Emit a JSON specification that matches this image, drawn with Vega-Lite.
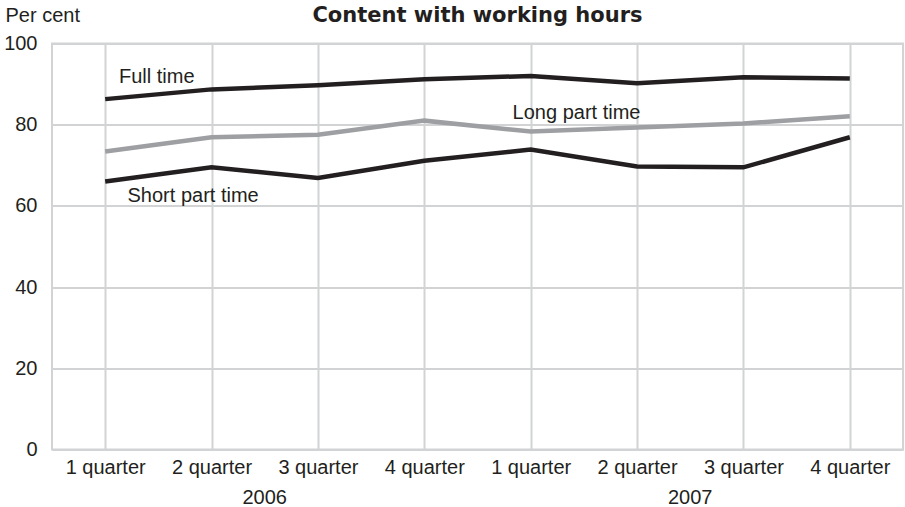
{
  "$schema": "https://vega.github.io/schema/vega-lite/v6.json",
  "width": 851,
  "height": 406,
  "autosize": "none",
  "padding": {"left": 52, "top": 43.5, "right": 2, "bottom": 57.5},
  "background": "white",
  "config": {
    "view": {"stroke": "#d1d3d4", "strokeWidth": 2},
    "font": "Liberation Sans"
  },
  "title": {
    "text": "Content with working hours",
    "font": "DejaVu Sans",
    "fontSize": 21,
    "fontWeight": "bold",
    "color": "#231f20",
    "anchor": "middle",
    "frame": "group",
    "baseline": "alphabetic",
    "offset": 0,
    "dy": 37
  },
  "layer": [
    {
      "data": {
        "values": [
          {"period": 1, "series": "Full time", "value": 86.3},
          {"period": 2, "series": "Full time", "value": 88.7},
          {"period": 3, "series": "Full time", "value": 89.7},
          {"period": 4, "series": "Full time", "value": 91.2},
          {"period": 5, "series": "Full time", "value": 92.0},
          {"period": 6, "series": "Full time", "value": 90.2},
          {"period": 7, "series": "Full time", "value": 91.7},
          {"period": 8, "series": "Full time", "value": 91.4},
          {"period": 1, "series": "Long part time", "value": 73.4},
          {"period": 2, "series": "Long part time", "value": 76.9},
          {"period": 3, "series": "Long part time", "value": 77.5},
          {"period": 4, "series": "Long part time", "value": 81.0},
          {"period": 5, "series": "Long part time", "value": 78.3},
          {"period": 6, "series": "Long part time", "value": 79.3},
          {"period": 7, "series": "Long part time", "value": 80.3},
          {"period": 8, "series": "Long part time", "value": 82.1},
          {"period": 1, "series": "Short part time", "value": 66.0},
          {"period": 2, "series": "Short part time", "value": 69.5},
          {"period": 3, "series": "Short part time", "value": 66.9},
          {"period": 4, "series": "Short part time", "value": 71.1},
          {"period": 5, "series": "Short part time", "value": 73.9},
          {"period": 6, "series": "Short part time", "value": 69.7},
          {"period": 7, "series": "Short part time", "value": 69.5},
          {"period": 8, "series": "Short part time", "value": 76.9}
        ]
      },
      "mark": {"type": "line", "strokeWidth": 4.5, "strokeJoin": "miter"},
      "encoding": {
        "x": {
          "field": "period",
          "type": "quantitative",
          "scale": {"domain": [0.5, 8.5], "nice": false, "zero": false},
          "axis": {
            "title": null,
            "values": [1, 2, 3, 4, 5, 6, 7, 8],
            "labelExpr": "((datum.value - 1) % 4 + 1) + ' quarter'",
            "ticks": false,
            "domain": false,
            "grid": true,
            "gridColor": "#d1d3d4",
            "gridWidth": 2,
            "labelFont": "Liberation Sans",
            "labelFontSize": 20,
            "labelColor": "#231f20",
            "labelPadding": 8
          }
        },
        "y": {
          "field": "value",
          "type": "quantitative",
          "scale": {"domain": [0, 100], "nice": false},
          "axis": {
            "title": "Per cent",
            "titleAngle": 0,
            "titleAlign": "left",
            "titleBaseline": "alphabetic",
            "titleX": -47,
            "titleY": -22,
            "titleFont": "Liberation Sans",
            "titleFontSize": 20,
            "titleFontWeight": "normal",
            "titleColor": "#231f20",
            "values": [0, 20, 40, 60, 80, 100],
            "ticks": false,
            "domain": false,
            "grid": true,
            "gridColor": "#d1d3d4",
            "gridWidth": 2,
            "labelFont": "Liberation Sans",
            "labelFontSize": 20,
            "labelColor": "#231f20",
            "labelPadding": 15
          }
        },
        "color": {
          "field": "series",
          "type": "nominal",
          "scale": {"domain": ["Full time", "Long part time", "Short part time"], "range": ["#231f20", "#9d9fa2", "#231f20"]},
          "legend": null
        }
      }
    },
    {
      "data": {"values": [{"label": "Full time"}]},
      "mark": {"type": "text", "align": "left", "baseline": "alphabetic", "fontSize": 20, "fill": "#231f20", "font": "Liberation Sans"},
      "encoding": {"x": {"datum": 1.13, "type": "quantitative"}, "y": {"datum": 90.2, "type": "quantitative"}, "text": {"field": "label"}}
    },
    {
      "data": {"values": [{"label": "Long part time"}]},
      "mark": {"type": "text", "align": "left", "baseline": "alphabetic", "fontSize": 20, "fill": "#231f20", "font": "Liberation Sans"},
      "encoding": {"x": {"datum": 4.83, "type": "quantitative"}, "y": {"datum": 81.4, "type": "quantitative"}, "text": {"field": "label"}}
    },
    {
      "data": {"values": [{"label": "Short part time"}]},
      "mark": {"type": "text", "align": "left", "baseline": "alphabetic", "fontSize": 20, "fill": "#231f20", "font": "Liberation Sans"},
      "encoding": {"x": {"datum": 1.21, "type": "quantitative"}, "y": {"datum": 61.0, "type": "quantitative"}, "text": {"field": "label"}}
    },
    {
      "data": {"values": [{"label": "2006"}]},
      "mark": {"type": "text", "align": "center", "baseline": "alphabetic", "fontSize": 20, "fill": "#231f20", "font": "Liberation Sans"},
      "encoding": {"x": {"datum": 2.5, "type": "quantitative"}, "y": {"datum": -13.5, "type": "quantitative"}, "text": {"field": "label"}}
    },
    {
      "data": {"values": [{"label": "2007"}]},
      "mark": {"type": "text", "align": "center", "baseline": "alphabetic", "fontSize": 20, "fill": "#231f20", "font": "Liberation Sans"},
      "encoding": {"x": {"datum": 6.5, "type": "quantitative"}, "y": {"datum": -13.5, "type": "quantitative"}, "text": {"field": "label"}}
    }
  ]
}
